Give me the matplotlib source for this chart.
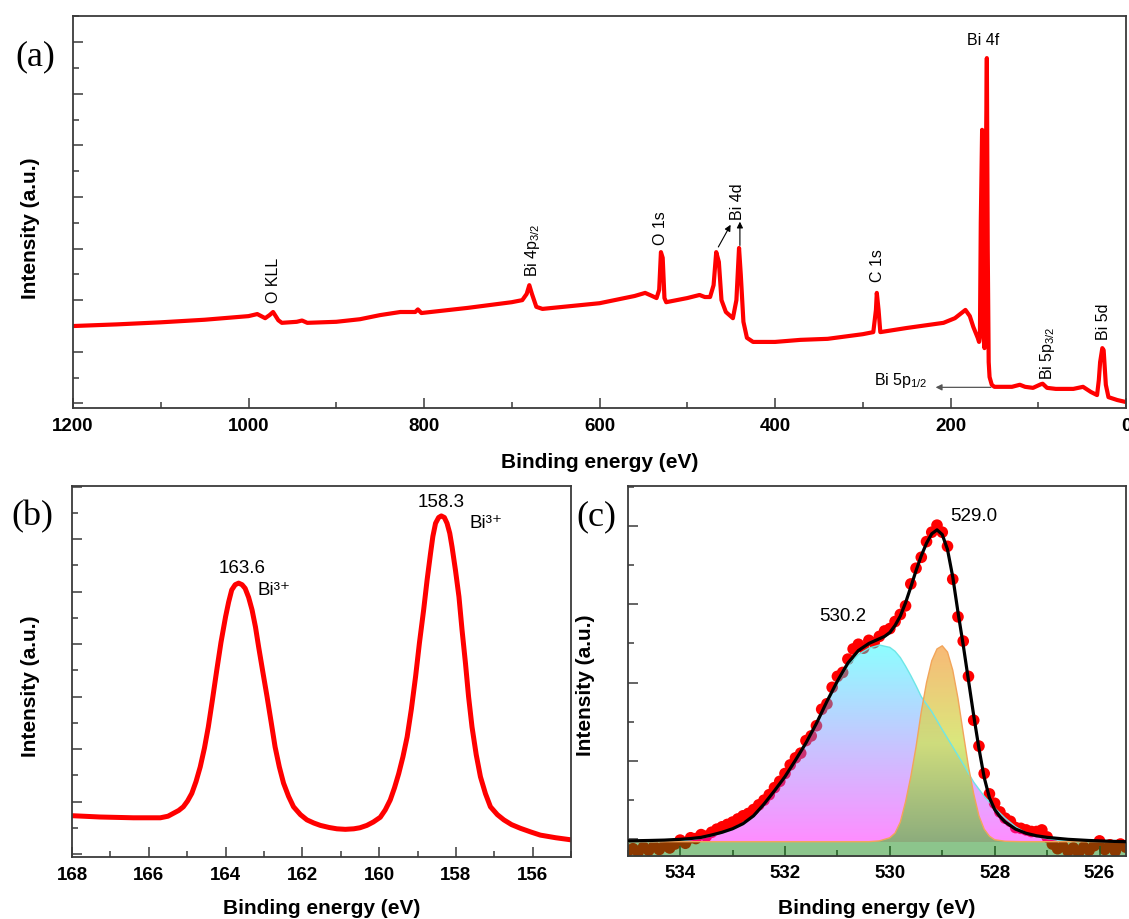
import numpy as np
import matplotlib
matplotlib.use("Agg")
import matplotlib.pyplot as plt
from matplotlib.ticker import MultipleLocator
from matplotlib.colors import LinearSegmentedColormap
from matplotlib.patches import PathPatch

plt.rcParams['font.family'] = ['Liberation Sans', 'DejaVu Sans']
plt.rcParams['mathtext.fontset'] = 'custom'
plt.rcParams['mathtext.rm'] = 'Liberation Sans'
plt.rcParams['mathtext.it'] = 'Liberation Sans:italic'
plt.rcParams['mathtext.default'] = 'regular'

# ---------------- data ----------------
# (a) survey spectrum: (binding energy eV, intensity a.u.)
survey = [(1200, 14.98), (1150, 15.3), (1100, 15.7), (1050, 16.2), (1000, 16.9), (990, 17.3),
          (981, 16.5), (976, 17.1), (972, 17.7), (966, 16.1), (962, 15.6), (945, 15.8),
          (939, 16.05), (933, 15.6), (900, 15.8), (873, 16.3), (850, 17.1), (827, 17.7),
          (810, 17.7), (807, 18.2), (803, 17.5), (750, 18.5), (700, 19.6), (688, 20.0),
          (683, 21.2), (680, 22.9), (677, 21.2), (672, 18.7), (665, 18.3), (600, 19.4),
          (560, 20.8), (548, 21.4), (540, 20.8), (535, 20.4), (532, 22.0), (530, 29.3),
          (528, 28.2), (526, 20.4), (524, 19.6), (500, 20.4), (486, 21.0), (480, 20.6),
          (474, 20.6), (470, 22.9), (467, 29.3), (464, 27.4), (461, 20.0), (456, 17.7),
          (448, 16.5), (444, 20.0), (441, 30.1), (439, 24.9), (436, 15.8), (432, 12.7),
          (425, 11.9), (400, 11.9), (371, 12.3), (340, 12.5), (300, 13.4), (288, 13.8),
          (285, 18.1), (284, 21.4), (282, 18.1), (280, 13.8), (250, 14.6), (208, 15.6),
          (195, 16.5), (186, 17.7), (183, 18.1), (178, 16.9), (174, 14.8), (169, 12.7),
          (167.5, 11.9), (166.5, 13.0), (165.5, 35.0), (164.0, 53.0), (163.0, 30.0),
          (162.0, 12.0), (161.3, 10.7), (160.3, 35.0), (158.6, 66.9), (157.6, 30.0),
          (156.5, 8.0), (155.5, 5.1), (153, 3.6), (150, 3.2), (130, 3.2), (121, 3.6),
          (115, 3.2), (106, 3.0), (97, 3.7), (95, 3.8), (90, 3.0), (80, 2.8), (60, 2.8),
          (49, 3.2), (40, 2.2), (33, 1.6), (31, 4.5), (29.5, 8.0), (27, 10.7), (25.5, 10.3),
          (23, 3.6), (20, 1.2), (10, 0.64), (0, 0.25)]
survey_be, survey_int = map(np.array, zip(*survey))

# (a) peak labels: (text, eV, intensity)
survey_labels = [("O KLL", 972, 19.5), ("Bi 4p$_{3/2}$", 676.8, 24.5),
                 ("O 1s", 530.4, 30.7), ("Bi 4d", 443, 35.5),
                 ("C 1s", 283.3, 23.5), ("Bi 5p$_{3/2}$", 89.4, 4.5),
                 ("Bi 5d", 25.5, 12.3)]

# (b) Bi 4f high resolution
bi4f = [(168.0, 7.3), (167.27, 7.05), (166.4, 6.9), (165.7, 6.9), (165.5, 7.2), (165.36, 7.75),
        (165.22, 8.3), (165.1, 9.0), (164.99, 10.1), (164.88, 11.55), (164.77, 13.8),
        (164.66, 16.6), (164.55, 20.2), (164.45, 24.2), (164.34, 29.5), (164.23, 35.0),
        (164.12, 40.3), (164.0, 45.2), (163.92, 48.0), (163.84, 50.3), (163.75, 51.3),
        (163.66, 51.6), (163.57, 51.3), (163.49, 50.6), (163.40, 48.9), (163.31, 46.5),
        (163.22, 43.2), (163.14, 39.5), (163.03, 34.7), (162.92, 30.0), (162.81, 25.0),
        (162.71, 20.4), (162.60, 16.6), (162.49, 13.5), (162.36, 11.0), (162.23, 9.0),
        (162.05, 7.5), (161.88, 6.5), (161.7, 5.9), (161.53, 5.45), (161.3, 5.05),
        (161.1, 4.8), (160.88, 4.7), (160.66, 4.8), (160.5, 5.0), (160.32, 5.45),
        (160.15, 6.1), (159.97, 7.0), (159.84, 8.4), (159.71, 10.3), (159.60, 12.6),
        (159.49, 15.3), (159.38, 18.5), (159.27, 22.3), (159.16, 27.6), (159.05, 33.8),
        (158.95, 40.2), (158.84, 46.5), (158.75, 52.2), (158.66, 57.3), (158.60, 60.5),
        (158.53, 63.0), (158.45, 64.1), (158.38, 64.4), (158.30, 64.1), (158.23, 63.0),
        (158.16, 61.1), (158.1, 58.5), (158.01, 54.0), (157.92, 49.0), (157.84, 42.7),
        (157.75, 36.3), (157.67, 30.0), (157.58, 24.2), (157.47, 18.9), (157.36, 14.7),
        (157.23, 11.5), (157.1, 9.0), (156.92, 7.5), (156.75, 6.5), (156.55, 5.6),
        (156.32, 4.9), (156.05, 4.2), (155.8, 3.6), (155.4, 3.1), (155.0, 2.7)]
bi4f_be, bi4f_int = map(np.array, zip(*bi4f))

# (c) O 1s: measured points
o1s_be = [535.0, 534.9, 534.8, 534.7, 534.6, 534.5, 534.4, 534.3, 534.2, 534.1, 534.0, 533.9,
          533.8, 533.7, 533.6, 533.5, 533.4, 533.3, 533.2, 533.1, 533.0, 532.9, 532.8, 532.7,
          532.6, 532.5, 532.4, 532.3, 532.2, 532.1, 532.0, 531.9, 531.8, 531.7, 531.6, 531.5,
          531.4, 531.3, 531.2, 531.1, 531.0, 530.9, 530.8, 530.7, 530.6, 530.5, 530.4, 530.3,
          530.2, 530.1, 530.0, 529.9, 529.8, 529.7, 529.6, 529.5, 529.4, 529.3, 529.2, 529.1,
          529.0, 528.9, 528.8, 528.7, 528.6, 528.5, 528.4, 528.3, 528.2, 528.1, 528.0, 527.9,
          527.8, 527.7, 527.6, 527.5, 527.4, 527.3, 527.2, 527.1, 527.0, 526.9, 526.8, 526.7,
          526.6, 526.5, 526.4, 526.3, 526.2, 526.1, 526.0, 525.9, 525.8, 525.7, 525.6, 525.5]
o1s_int = [-1.5, -1.2, -1.6, -1.0, -1.4, -0.9, -1.3, -0.8, -1.1, -0.6, -0.1, -0.5,
           0.2, 0.1, 0.6, 0.4, 0.9, 1.3, 1.6, 1.9, 2.2, 2.6, 3.0, 3.3,
           3.8, 4.4, 5.0, 5.7, 6.6, 7.4, 8.4, 9.5, 10.4, 11.0, 12.6, 13.2,
           14.5, 16.6, 17.3, 19.4, 20.8, 21.3, 23.0, 24.3, 24.9, 24.4, 25.4, 25.1,
           25.9, 26.6, 26.9, 27.8, 28.7, 29.8, 32.6, 34.6, 36.0, 38.0, 39.2, 40.1,
           39.2, 37.4, 33.2, 28.4, 25.3, 20.8, 15.2, 11.9, 8.4, 5.8, 4.6, 3.5,
           2.7, 2.3, 1.5, 1.4, 1.2, 1.0, 1.0, 1.2, 0.3, -0.6, -1.2, -0.9,
           -1.5, -1.1, -1.7, -1.0, -1.4, -0.8, -0.2, -1.3, -0.7, -1.5, -0.6, -1.0]

# (c) envelope fit
fit_be = [535.0, 534.6, 534.3, 534.0, 533.8, 533.6, 533.4, 533.2, 533.0, 532.8, 532.6, 532.4,
          532.2, 532.0, 531.8, 531.6, 531.4, 531.2, 531.0, 530.8, 530.6, 530.4, 530.2, 530.1,
          530.0, 529.9, 529.8, 529.7, 529.6, 529.5, 529.4, 529.3, 529.2, 529.1, 529.0, 528.9,
          528.8, 528.7, 528.6, 528.5, 528.4, 528.3, 528.2, 528.1, 528.0, 527.9, 527.8, 527.6,
          527.4, 527.2, 527.0, 526.6, 526.2, 525.8, 525.5]
fit_int = [-0.2, -0.15, -0.1, 0.0, 0.1, 0.25, 0.55, 0.9, 1.35, 2.0, 3.0, 4.5,
           6.2, 8.0, 10.1, 12.3, 14.8, 17.6, 20.2, 22.5, 24.1, 25.0, 25.6, 25.9,
           26.4, 27.3, 28.5, 30.2, 32.2, 34.3, 36.2, 37.8, 39.0, 39.5, 38.9, 37.0,
           33.5, 29.0, 24.8, 20.3, 15.8, 11.6, 7.9, 5.3, 3.8, 2.9, 2.2, 1.3,
           0.77, 0.45, 0.25, 0.0, -0.15, -0.25, -0.3]

# (c) component at 530.2 eV
comp1_be = [535.0, 534.5, 534.0, 533.8, 533.6, 533.4, 533.2, 533.0, 532.8, 532.6, 532.4, 532.2,
            532.0, 531.8, 531.6, 531.4, 531.2, 531.0, 530.8, 530.6, 530.4, 530.2, 530.0, 529.9,
            529.8, 529.7, 529.6, 529.5, 529.4, 529.2, 529.0, 528.8, 528.6, 528.4, 528.2, 528.0,
            527.8, 527.6, 527.4, 527.2, 527.0, 526.8, 526.5, 525.5]
comp1_int = [-0.3, -0.3, -0.2, -0.05, 0.15, 0.45, 0.8, 1.25, 1.9, 2.9, 4.4, 6.1,
             7.9, 10.0, 12.2, 14.7, 17.5, 20.0, 22.2, 23.6, 24.4, 24.8, 24.5, 24.0,
             23.2, 22.1, 20.9, 19.6, 18.2, 16.3, 14.0, 11.8, 9.6, 7.3, 5.5, 4.0,
             2.7, 1.6, 0.8, 0.35, 0.1, -0.1, -0.25, -0.3]

# (c) component at 529.0 eV
comp2_be = [535.0, 530.4, 530.2, 530.0, 529.9, 529.8, 529.7, 529.6, 529.5, 529.4, 529.3, 529.2,
            529.1, 529.0, 528.9, 528.8, 528.7, 528.6, 528.5, 528.4, 528.3, 528.2, 528.1, 528.0,
            527.8, 527.5, 525.5]
comp2_int = [-0.3, -0.3, -0.2, 0.2, 0.8, 2.2, 4.8, 8.0, 11.8, 16.3, 20.0, 22.8,
             24.3, 24.7, 23.9, 21.6, 18.0, 13.6, 9.3, 5.8, 3.0, 1.3, 0.4, -0.05,
             -0.25, -0.3, -0.3]

o1s_baseline = -0.35

# ---------------- figure ----------------
fig = plt.figure(figsize=(11.29, 9.19), dpi=100)
axA = fig.add_axes([0.06466, 0.5560, 0.9327, 0.4266])
axB = fig.add_axes([0.0638, 0.06746, 0.4420, 0.4037])
axC = fig.add_axes([0.5560, 0.06888, 0.4411, 0.4023])

FRAME = '#3a3a3a'


def style(ax, xmaj, xmin, ymaj, ymin):
    for s in ax.spines.values():
        s.set_color(FRAME)
        s.set_linewidth(1.3)
    ax.xaxis.set_major_locator(MultipleLocator(xmaj))
    ax.xaxis.set_minor_locator(MultipleLocator(xmin))
    ax.yaxis.set_major_locator(MultipleLocator(ymaj))
    ax.yaxis.set_minor_locator(MultipleLocator(ymin))
    ax.tick_params(which='both', direction='in', top=False, right=False,
                   color=FRAME, width=1.1)
    ax.tick_params(which='major', length=7)
    ax.tick_params(which='minor', length=4.5)
    ax.tick_params(axis='x', labelsize=13.5, pad=7)
    ax.tick_params(axis='y', labelleft=False)
    for t in ax.get_xticklabels():
        t.set_fontweight('bold')


def gradient_fill(ax, x, y, base, colors, alpha, zorder):
    x = np.asarray(x, float)
    y = np.asarray(y, float)
    poly = ax.fill_between(x, y, base, facecolor='none', edgecolor='none')
    path = poly.get_paths()[0]
    patch = PathPatch(path, transform=ax.transData, facecolor='none', edgecolor='none')
    ax.add_patch(patch)
    cmap = LinearSegmentedColormap.from_list('grad', colors)
    grad = np.linspace(0, 1, 256).reshape(-1, 1)
    im = ax.imshow(grad, cmap=cmap, aspect='auto', origin='lower',
                   extent=[x.min(), x.max(), base, y.max()], alpha=alpha,
                   zorder=zorder, interpolation='bilinear')
    im.set_clip_path(patch)


label_font = dict(fontsize=15, fontweight='bold')
BI3 = "Bi\u00b3\u207a"

# ---- (a) survey ----
axA.plot(survey_be, survey_int, color='#ff0000', lw=3.0, solid_joinstyle='round')
axA.set_xlim(1200, 0)
axA.set_ylim(-0.91, 75.06)
style(axA, 200, 100, 10, 5)
for txt, x, y in survey_labels:
    axA.text(x, y, txt, rotation=90, ha='center', va='bottom', fontsize=11.5)
axA.text(162.4, 70.3, "Bi 4f", ha='center', va='center', fontsize=11.5)
axA.text(226, 4.5, "Bi 5p$_{1/2}$", ha='right', va='center', fontsize=11.5)
arrow_k = dict(arrowstyle='-|>', color='black', lw=0.8, mutation_scale=9, shrinkA=0, shrinkB=0)
axA.annotate('', xy=(450.6, 34.6), xytext=(464.6, 30.3), arrowprops=arrow_k)
axA.annotate('', xy=(440, 35.2), xytext=(440, 30.6), arrowprops=arrow_k)
axA.annotate('', xy=(217, 3.1), xytext=(154, 3.1),
             arrowprops=dict(arrowstyle='-|>', color='#555555', lw=0.9, mutation_scale=9,
                             shrinkA=0, shrinkB=0))
axA.set_xlabel("Binding energy (eV)", va='center', **label_font)
axA.set_ylabel("Intensity (a.u.)", va='center', **label_font)
axA.xaxis.set_label_coords(0.5, -0.140)
axA.yaxis.set_label_coords(-0.0408, 0.459)

# ---- (b) Bi 4f ----
axB.plot(bi4f_be, bi4f_int, color='#ff0000', lw=3.6, solid_joinstyle='round',
         solid_capstyle='round')
axB.set_xlim(168, 155)
axB.set_ylim(-0.57, 70.1)
style(axB, 2, 1, 10, 5)
axB.text(163.57, 54.3, "163.6", ha='center', va='center', fontsize=13.5)
axB.text(163.18, 50.2, BI3, ha='left', va='center', fontsize=13.5)
axB.text(158.39, 66.9, "158.3", ha='center', va='center', fontsize=13.5)
axB.text(157.65, 63.0, BI3, ha='left', va='center', fontsize=13.5)
axB.set_xlabel("Binding energy (eV)", va='center', **label_font)
axB.set_ylabel("Intensity (a.u.)", va='center', **label_font)
axB.xaxis.set_label_coords(0.5, -0.140)
axB.yaxis.set_label_coords(-0.0842, 0.461)

# ---- (c) O 1s ----
axC.scatter(o1s_be, o1s_int, s=70, color='#ff0000', edgecolors='none', zorder=1)
axC.fill_between([536, 525], -3, o1s_baseline, color=(0.0, 0.5, 0.0), alpha=0.45,
                 lw=0, zorder=2)
gradient_fill(axC, comp1_be, comp1_int, o1s_baseline,
              [(1.0, 0.0, 1.0), (0.0, 1.0, 1.0)], 0.45, 3)
gradient_fill(axC, comp2_be, comp2_int, o1s_baseline,
              [(0.44, 0.71, 0.36), (0.82, 0.89, 0.36), (0.97, 0.66, 0.33)], 0.8, 4)
axC.plot(comp1_be, comp1_int, color='#6ee6e6', lw=1.0, zorder=5)
axC.plot(comp2_be, comp2_int, color='#f2a55a', lw=1.0, zorder=5)
axC.plot(fit_be, fit_int, color='black', lw=2.3, zorder=6, solid_joinstyle='round')
axC.set_xlim(535, 525.5)
axC.set_ylim(-2.09, 45.1)
style(axC, 2, 1, 10, 5)
axC.text(530.9, 28.5, "530.2", ha='center', va='center', fontsize=13.5, zorder=7)
axC.text(528.4, 41.2, "529.0", ha='center', va='center', fontsize=13.5, zorder=7)
axC.set_xlabel("Binding energy (eV)", va='center', **label_font)
axC.set_ylabel("Intensity (a.u.)", va='center', **label_font)
axC.xaxis.set_label_coords(0.5, -0.144)
axC.yaxis.set_label_coords(-0.0857, 0.462)

# panel letters
serif = dict(family=['Liberation Serif', 'DejaVu Serif'], fontsize=26, ha='center', va='center')
fig.text(0.031, 0.938, "(a)", **serif)
fig.text(0.0283, 0.4374, "(b)", **serif)
fig.text(0.5279, 0.4374, "(c)", **serif)

fig.savefig("out.png", dpi=100)
